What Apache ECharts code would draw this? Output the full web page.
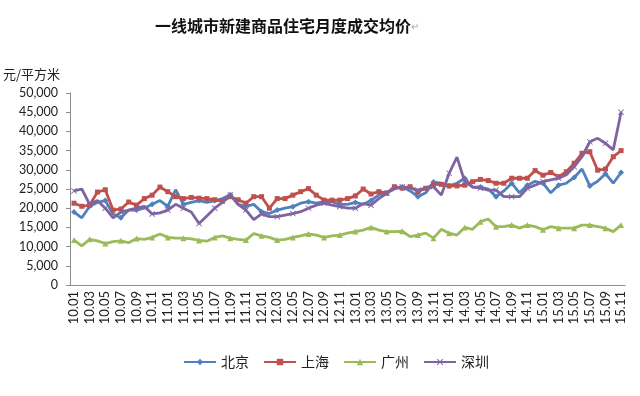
<!DOCTYPE html>
<html><head><meta charset="utf-8">
<script src="https://cdn.jsdelivr.net/npm/echarts@6/dist/echarts.min.js"></script>
<style>html,body{margin:0;padding:0;background:#fff}#c{width:640px;height:396px}</style>
</head><body><div id="c"></div>
<script>
const months = ['10.01','10.02','10.03','10.04','10.05','10.06','10.07','10.08','10.09','10.10','10.11','10.12',
'11.01','11.02','11.03','11.04','11.05','11.06','11.07','11.08','11.09','11.10','11.11','11.12',
'12.01','12.02','12.03','12.04','12.05','12.06','12.07','12.08','12.09','12.10','12.11','12.12',
'13.01','13.02','13.03','13.04','13.05','13.06','13.07','13.08','13.09','13.10','13.11','13.12',
'14.01','14.02','14.03','14.04','14.05','14.06','14.07','14.08','14.09','14.10','14.11','14.12',
'15.01','15.02','15.03','15.04','15.05','15.06','15.07','15.08','15.09','15.10','15.11'];
const yTicks = [0,5000,10000,15000,20000,25000,30000,35000,40000,45000,50000];
const beijing = [19000,17500,20500,21500,22000,18500,17500,19500,19500,20000,21000,22000,
20500,24800,21000,21500,22000,21500,22000,22500,23500,21000,20500,21000,
19100,18600,19500,20000,20400,21300,21700,21300,21700,21700,21000,21000,
21500,21000,22000,23500,24000,25000,25500,24500,23000,24000,26800,26500,
25800,26500,27800,25500,25500,25000,23000,24500,26500,24000,26000,27000,
26500,24000,26000,26500,28000,30200,25800,27000,29000,26500,29300];
const shanghai = [21300,20500,20800,24200,24800,19500,19800,21600,20800,22500,23400,25500,
24300,23000,22500,22800,22600,22500,22200,21800,23000,22200,21300,23000,
23000,20000,22500,22500,23400,24300,25100,23400,22100,22100,22100,22500,
23200,25000,23700,24300,23900,25600,25200,25600,24300,25200,26200,26200,
25800,25800,26000,26900,27500,27200,26500,26500,27800,27800,27800,29800,
28600,29300,28200,29500,31700,34300,34700,29900,30200,33400,35000];
const guangzhou = [11700,10200,11900,11500,10800,11300,11500,11000,12100,11900,12400,13300,
12400,12200,12200,12000,11600,11400,12400,12800,12200,11900,11700,13400,
12800,12400,11700,11900,12400,12800,13300,13000,12400,12800,13000,13500,
13900,14300,15000,14300,13900,13900,14000,12600,13000,13500,12200,14500,
13500,13000,15000,14500,16500,17200,15200,15200,15600,14800,15600,15200,
14400,15200,14800,14800,14800,15600,15600,15200,14800,13900,15600];
const shenzhen = [24500,25000,21000,22000,20000,17500,19000,19500,20000,20500,18500,18800,
19500,21000,20000,19000,16000,18000,20000,21500,23500,21000,19500,17000,
18500,17800,17800,18200,18600,19100,20000,20800,21300,20800,20400,20000,
20000,21200,20800,22500,23900,25200,25600,25200,24700,25200,25600,23400,
29100,33300,26900,25500,25200,24700,24700,23000,23000,23000,25200,26000,
26900,27400,27800,28700,30800,33400,37300,38200,36900,35200,45000];
const seriesNames = ['北京','上海','广州','深圳'];
const colors = ['#4F81BD','#C0504D','#9BBB59','#8064A2'];
const xSym = 'path://M0,1L1,0L5,4L9,0L10,1L6,5L10,9L9,10L5,6L1,10L0,9L4,5Z';
const symbols = ['diamond','rect','triangle',xSym];
const data = [beijing, shanghai, guangzhou, shenzhen];

const chart = echarts.init(document.getElementById('c'), null, {renderer:'canvas'});
const fmt = v => String(v).replace(/\B(?=(\d{3})+(?!\d))/g, ',');
chart.setOption({
  animation:false,
  backgroundColor:'#fff',
  title:{
    text:'一线城市新建商品住宅月度成交均价{r|↵}',
    left:150, top:13,
    textStyle:{fontSize:16, fontWeight:'bold', color:'#111', fontFamily:'Noto Sans CJK SC',
      rich:{r:{fontSize:10,color:'#9aa7c0',fontWeight:'normal'}}}
  },
  legend:{
    left:178, top:350, itemWidth:32, itemHeight:8, itemGap:14,
    textStyle:{fontSize:14, color:'#222', fontFamily:'Noto Sans CJK SC'},
    data:seriesNames
  },
  grid:{left:67, right:15, top:93, bottom:111},
  xAxis:{
    type:'category', data:months, boundaryGap:true,
    axisLine:{lineStyle:{color:'#8c8c8c',width:1}},
    axisTick:{interval:0, length:4, lineStyle:{color:'#8c8c8c'}},
    axisLabel:{interval:1, rotate:90, fontSize:13, color:'#222', fontFamily:'Lato', margin:6}
  },
  yAxis:{
    type:'value', min:yTicks[0], max:yTicks[yTicks.length-1], interval:5000,
    name:'元/平方米', nameLocation:'end', nameGap:12,
    nameTextStyle:{fontSize:13, color:'#222', align:'right', padding:[0,10,0,0], fontFamily:'Noto Sans CJK SC'},
    axisLine:{show:true, lineStyle:{color:'#8c8c8c',width:1}},
    axisTick:{show:true, length:4, lineStyle:{color:'#8c8c8c'}},
    splitLine:{show:false},
    axisLabel:{fontSize:12.5, color:'#222', fontFamily:'Lato', margin:12, formatter:fmt}
  },
  series: seriesNames.map((n,k)=>({
    name:n, type:'line', data:data[k],
    symbol:symbols[k], symbolSize: k===1?5:6,
    showSymbol:true,
    itemStyle:{color:colors[k]},
    lineStyle:{color:colors[k], width:2.8},
    z: k===3?5:(k===1?4:3)
  }))
});
</script></body></html>
